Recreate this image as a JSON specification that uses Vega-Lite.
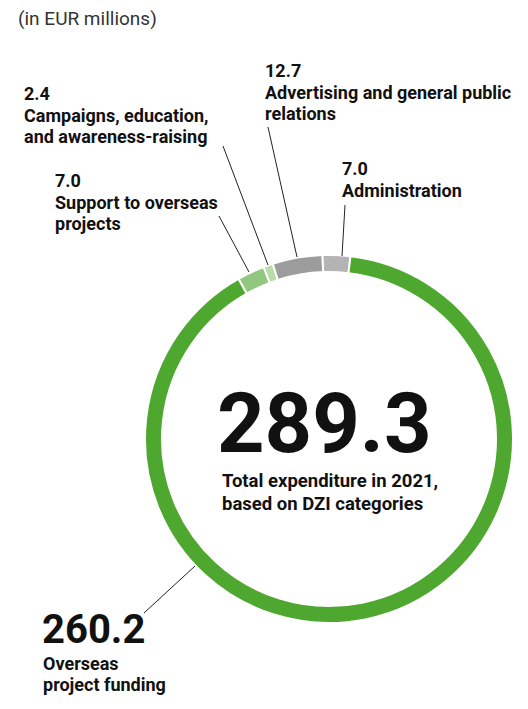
{
  "$schema": "https://vega.github.io/schema/vega-lite/v6.json",
  "width": 528,
  "height": 709,
  "autosize": {"type": "fit", "contains": "padding"},
  "padding": 0,
  "background": "white",
  "config": {"view": {"stroke": null}, "font": "Roboto", "text": {"font": "Roboto"}},
  "datasets": {
    "spend": [
      {"category": "Support to overseas projects", "label": "Support to overseas\nprojects", "value": 7.0, "idx": 1},
      {"category": "Campaigns, education, and awareness-raising", "label": "Campaigns, education,\nand awareness-raising", "value": 2.4, "idx": 2},
      {"category": "Advertising and general public relations", "label": "Advertising and general public\nrelations", "value": 12.7, "idx": 3},
      {"category": "Administration", "label": "Administration", "value": 7.0, "idx": 4},
      {"category": "Overseas project funding", "label": "Overseas\nproject funding", "value": 260.2, "idx": 5}
    ],
    "notes": [
      {"note": "(in EUR millions)", "total": "289.3", "caption": "Total expenditure in 2021,\nbased on DZI categories"}
    ]
  },
  "data": {"name": "spend"},
  "resolve": {"scale": {"x": "shared", "y": "shared"}},
  "layer": [
    {
      "mark": {"type": "arc", "outerRadius": 184, "innerRadius": 167, "stroke": "white", "strokeWidth": 2},
      "encoding": {
        "theta": {"field": "value", "type": "quantitative", "stack": true, "scale": {"range": [-0.515, 5.7682]}},
        "order": {"field": "idx", "type": "quantitative"},
        "color": {
          "field": "category", "type": "nominal", "legend": null,
          "scale": {
            "domain": ["Support to overseas projects", "Campaigns, education, and awareness-raising", "Advertising and general public relations", "Administration", "Overseas project funding"],
            "range": ["#92c77f", "#b9dcab", "#9c9c9c", "#b4b4b4", "#4ea72e"]
          }
        },
        "x": {"datum": 329, "type": "quantitative", "scale": {"domain": [0, 528], "nice": false, "zero": false}, "axis": null},
        "y": {"datum": 439, "type": "quantitative", "scale": {"domain": [0, 709], "nice": false, "zero": false, "reverse": true}, "axis": null}
      }
    },
    {
      "transform": [{"filter": "datum.idx == 1"}],
      "layer": [
        {"mark": {"type": "rule", "color": "#222", "strokeWidth": 1},
         "encoding": {"x": {"datum": 219, "type": "quantitative"}, "y": {"datum": 216, "type": "quantitative"}, "x2": {"datum": 249}, "y2": {"datum": 272}}},
        {"mark": {"type": "text", "align": "left", "baseline": "alphabetic", "fontSize": 18, "fontWeight": "bold", "color": "#111"},
         "encoding": {"x": {"datum": 55, "type": "quantitative"}, "y": {"datum": 187, "type": "quantitative"}, "text": {"field": "value", "type": "quantitative", "format": ".1f"}}},
        {"mark": {"type": "text", "align": "left", "baseline": "alphabetic", "fontSize": 18, "fontWeight": "bold", "color": "#111", "lineBreak": "\n", "lineHeight": 21},
         "encoding": {"x": {"datum": 55, "type": "quantitative"}, "y": {"datum": 209, "type": "quantitative"}, "text": {"field": "label"}}}
      ]
    },
    {
      "transform": [{"filter": "datum.idx == 2"}],
      "layer": [
        {"mark": {"type": "rule", "color": "#222", "strokeWidth": 1},
         "encoding": {"x": {"datum": 223, "type": "quantitative"}, "y": {"datum": 146, "type": "quantitative"}, "x2": {"datum": 268}, "y2": {"datum": 265}}},
        {"mark": {"type": "text", "align": "left", "baseline": "alphabetic", "fontSize": 18, "fontWeight": "bold", "color": "#111"},
         "encoding": {"x": {"datum": 24, "type": "quantitative"}, "y": {"datum": 100, "type": "quantitative"}, "text": {"field": "value", "type": "quantitative", "format": ".1f"}}},
        {"mark": {"type": "text", "align": "left", "baseline": "alphabetic", "fontSize": 18, "fontWeight": "bold", "color": "#111", "lineBreak": "\n", "lineHeight": 21},
         "encoding": {"x": {"datum": 24, "type": "quantitative"}, "y": {"datum": 122, "type": "quantitative"}, "text": {"field": "label"}}}
      ]
    },
    {
      "transform": [{"filter": "datum.idx == 3"}],
      "layer": [
        {"mark": {"type": "rule", "color": "#222", "strokeWidth": 1},
         "encoding": {"x": {"datum": 268, "type": "quantitative"}, "y": {"datum": 127, "type": "quantitative"}, "x2": {"datum": 297}, "y2": {"datum": 257}}},
        {"mark": {"type": "text", "align": "left", "baseline": "alphabetic", "fontSize": 18, "fontWeight": "bold", "color": "#111"},
         "encoding": {"x": {"datum": 265, "type": "quantitative"}, "y": {"datum": 77, "type": "quantitative"}, "text": {"field": "value", "type": "quantitative", "format": ".1f"}}},
        {"mark": {"type": "text", "align": "left", "baseline": "alphabetic", "fontSize": 18, "fontWeight": "bold", "color": "#111", "lineBreak": "\n", "lineHeight": 21},
         "encoding": {"x": {"datum": 265, "type": "quantitative"}, "y": {"datum": 99, "type": "quantitative"}, "text": {"field": "label"}}}
      ]
    },
    {
      "transform": [{"filter": "datum.idx == 4"}],
      "layer": [
        {"mark": {"type": "rule", "color": "#222", "strokeWidth": 1},
         "encoding": {"x": {"datum": 345, "type": "quantitative"}, "y": {"datum": 205, "type": "quantitative"}, "x2": {"datum": 342}, "y2": {"datum": 256}}},
        {"mark": {"type": "text", "align": "left", "baseline": "alphabetic", "fontSize": 18, "fontWeight": "bold", "color": "#111"},
         "encoding": {"x": {"datum": 342, "type": "quantitative"}, "y": {"datum": 175, "type": "quantitative"}, "text": {"field": "value", "type": "quantitative", "format": ".1f"}}},
        {"mark": {"type": "text", "align": "left", "baseline": "alphabetic", "fontSize": 18, "fontWeight": "bold", "color": "#111", "lineBreak": "\n", "lineHeight": 21},
         "encoding": {"x": {"datum": 342, "type": "quantitative"}, "y": {"datum": 197, "type": "quantitative"}, "text": {"field": "label"}}}
      ]
    },
    {
      "transform": [{"filter": "datum.idx == 5"}],
      "layer": [
        {"mark": {"type": "rule", "color": "#222", "strokeWidth": 1},
         "encoding": {"x": {"datum": 144, "type": "quantitative"}, "y": {"datum": 613, "type": "quantitative"}, "x2": {"datum": 195}, "y2": {"datum": 566}}},
        {"mark": {"type": "text", "align": "left", "baseline": "alphabetic", "fontSize": 40, "fontWeight": "bold", "color": "#111"},
         "encoding": {"x": {"datum": 42, "type": "quantitative"}, "y": {"datum": 643, "type": "quantitative"}, "text": {"field": "value", "type": "quantitative", "format": ".1f"}}},
        {"mark": {"type": "text", "align": "left", "baseline": "alphabetic", "fontSize": 18, "fontWeight": "bold", "color": "#111", "lineBreak": "\n", "lineHeight": 21},
         "encoding": {"x": {"datum": 43, "type": "quantitative"}, "y": {"datum": 670, "type": "quantitative"}, "text": {"field": "label"}}}
      ]
    },
    {
      "data": {"name": "notes"},
      "layer": [
        {"mark": {"type": "text", "align": "left", "baseline": "alphabetic", "fontSize": 19, "color": "#333"},
         "encoding": {"x": {"datum": 18, "type": "quantitative"}, "y": {"datum": 25, "type": "quantitative"}, "text": {"field": "note"}}},
        {"mark": {"type": "text", "align": "left", "baseline": "alphabetic", "fontSize": 83, "fontWeight": "bold", "color": "#111"},
         "encoding": {"x": {"datum": 217, "type": "quantitative"}, "y": {"datum": 452, "type": "quantitative"}, "text": {"field": "total"}}},
        {"mark": {"type": "text", "align": "left", "baseline": "alphabetic", "fontSize": 18.5, "fontWeight": "bold", "color": "#111", "lineBreak": "\n", "lineHeight": 23},
         "encoding": {"x": {"datum": 222, "type": "quantitative"}, "y": {"datum": 487, "type": "quantitative"}, "text": {"field": "caption"}}}
      ]
    }
  ]
}
